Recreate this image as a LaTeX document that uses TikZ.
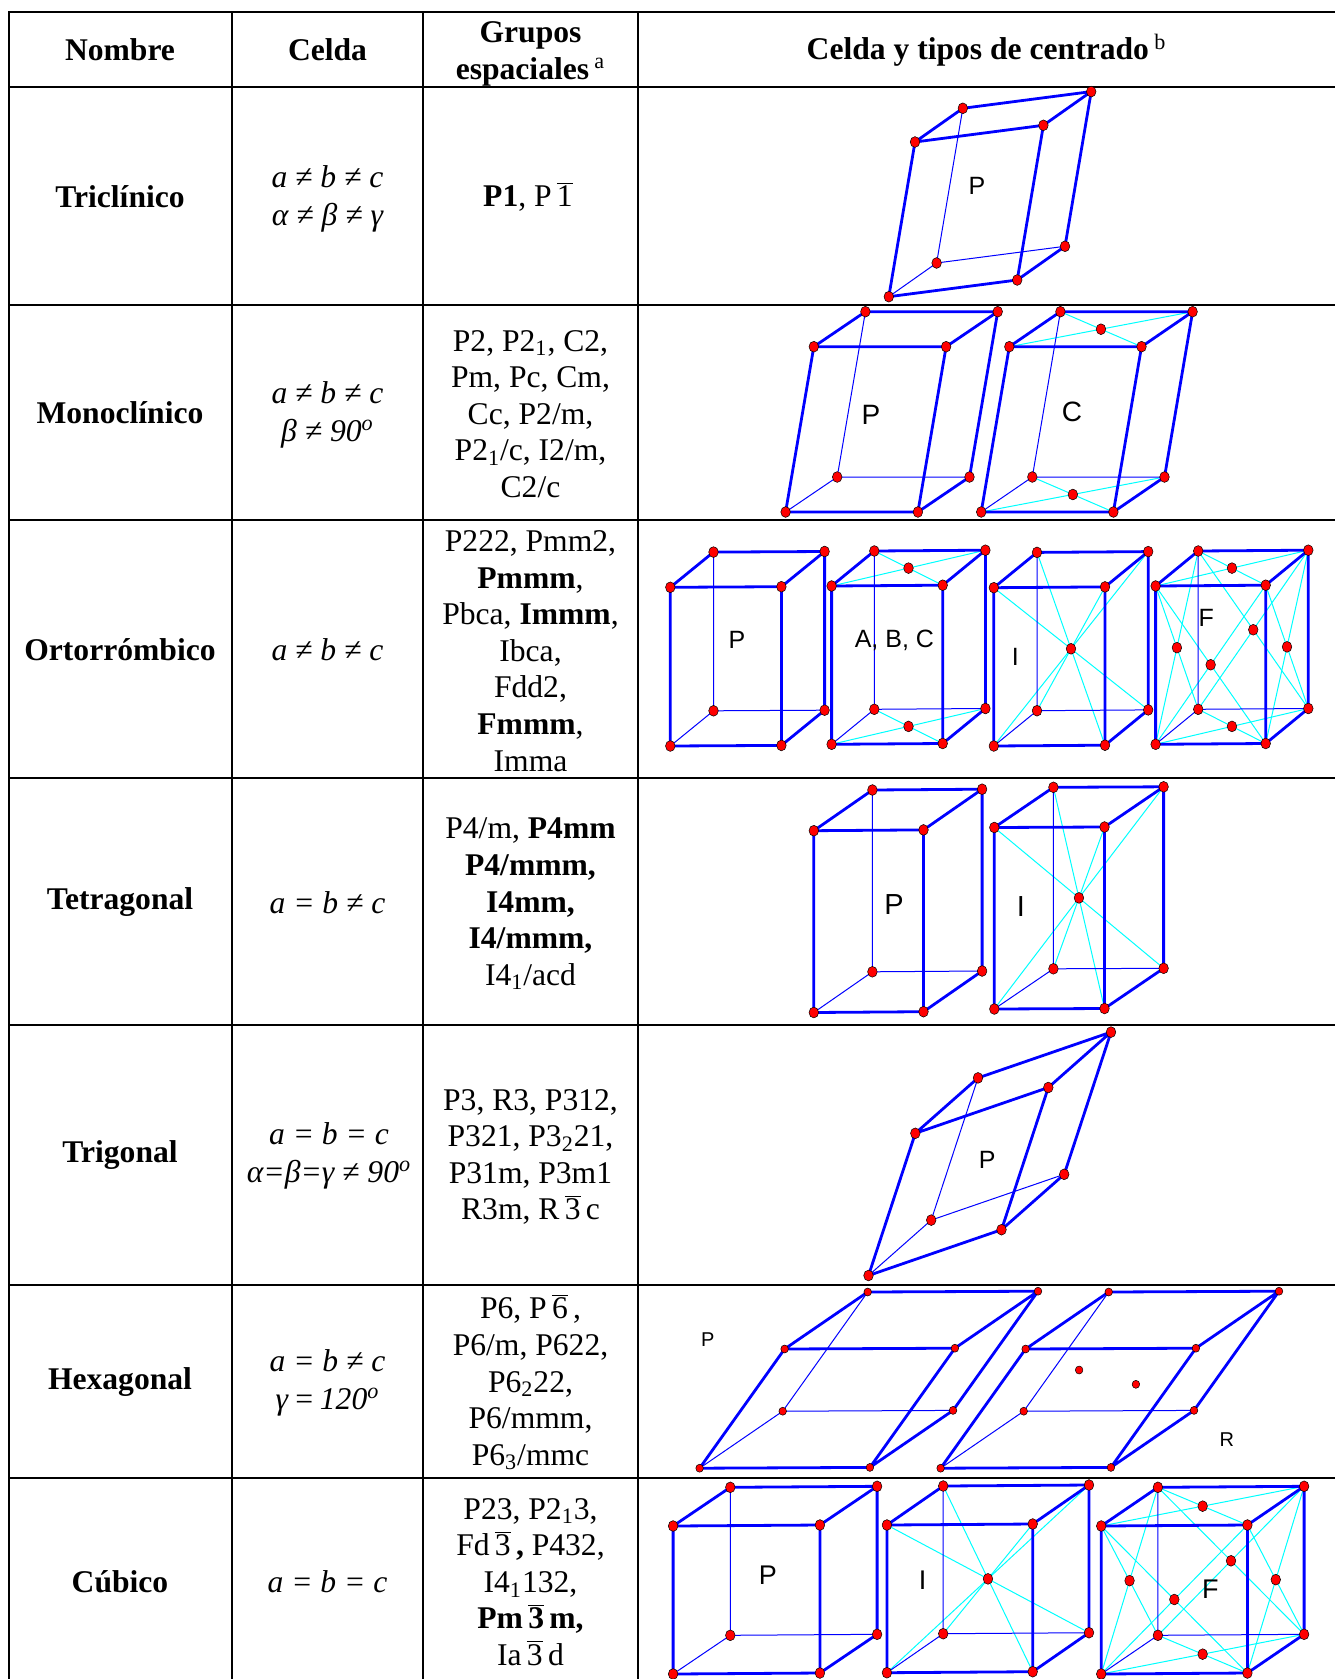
\documentclass[tikz,border=0pt]{standalone}
\usepackage{fontspec}
\setmainfont{Liberation Serif}
\newfontfamily\arial{Liberation Sans}
\usetikzlibrary{calc}
\definecolor{cian}{RGB}{0,255,255}
\definecolor{azul}{RGB}{0,0,255}
\definecolor{rojo}{RGB}{255,0,0}

\newcommand{\barra}[1]{\ensuremath{\overline{\mbox{#1}}}}
% celda: nombre, origen, a, b (alto), c (fondo)
\newcommand{\celda}[5]{%
  \coordinate (#1-000) at (#2);
  \coordinate (#1-100) at ($(#2)+(#3)$);
  \coordinate (#1-010) at ($(#2)+(#4)$);
  \coordinate (#1-001) at ($(#2)+(#5)$);
  \coordinate (#1-110) at ($(#2)+(#3)+(#4)$);
  \coordinate (#1-101) at ($(#2)+(#3)+(#5)$);
  \coordinate (#1-011) at ($(#2)+(#4)+(#5)$);
  \coordinate (#1-111) at ($(#2)+(#3)+(#4)+(#5)$);
}
\newcommand{\caja}[1]{%
  \draw[oculta] (#1-000) -- (#1-001) -- (#1-101) (#1-001) -- (#1-011);
  \draw[arista] (#1-000) -- (#1-100) -- (#1-110) -- (#1-010) -- cycle
    (#1-010) -- (#1-011) -- (#1-111) -- (#1-110)
    (#1-100) -- (#1-101) -- (#1-111);
  \foreach \v in {000,100,010,001,110,101,011,111}
    \path[punto] (#1-\v) circle;
}
\newcommand{\diagC}{010/111,110/011,000/101,100/001}
\newcommand{\diagI}{000/111,100/011,010/101,110/001}
\newcommand{\diagF}{010/111,110/011,000/101,100/001,000/110,100/010,001/111,101/011,000/011,001/010,100/111,101/110}
\newcommand{\centC}{010/111,000/101}
\newcommand{\centF}{010/111,000/101,000/110,001/111,000/011,100/111}

\begin{document}
\begin{tikzpicture}[x=0.5pt,y=-0.5pt,
    linea/.style={line width=1pt},
    arista/.style={draw=azul,line width=1.4pt,line cap=round,line join=round},
    oculta/.style={draw=azul,line width=0.5pt},
    diag/.style={draw=cian,line width=0.5pt},
    punto/.style={fill=rojo,draw=black,line width=0.25pt,x radius=2.4pt,y radius=2.7pt},
    texto/.style={align=center,inner sep=0pt,font=\fontsize{15.8}{18.3}\selectfont},
    nombre/.style={texto,font=\fontsize{15.8}{18.3}\selectfont\bfseries},
    celdatxt/.style={texto,font=\fontsize{15.8}{18.7}\selectfont\itshape},
    letra/.style={inner sep=0pt,font=\arial\fontsize{12.5}{14}\selectfont}]
  \path[fill=white,use as bounding box] (0,0) rectangle (1335,1679);

  % tabla
  \foreach \y in {12,87,305,520,778,1025,1284.5,1477.5}
    \draw[linea] (8.5,\y) -- (1335,\y);
  \foreach \x in {8.5,232,423,638}
    \draw[linea] (\x,11.5) -- (\x,1679);

  % cabecera
  \node[nombre] (hnom) at (120,49.5) {Nombre};
  \node[nombre] (hcel) at (327.5,49.5) {Celda};
  \node[nombre] (hgru) at (530.5,54) {Grupos\\espaciales\,\textsuperscript{\mdseries a}};
  \node[nombre] (hcen) at (986.5,50.5) {Celda y tipos de centrado\,\textsuperscript{\mdseries b}};

  % nombres
  \node[nombre] (ntri) at (120,197) {Triclínico};
  \node[nombre] (nmon) at (120,413) {Monoclínico};
  \node[nombre] (nort) at (120,650) {Ortorrómbico};
  \node[nombre] (ntet) at (120,902.5) {Tetragonal};
  \node[nombre] (ntrg) at (120,1155) {Trigonal};
  \node[nombre] (nhex) at (120,1382) {Hexagonal};
  \node[nombre] (ncub) at (120,1582) {Cúbico};

  % celda
  \node[celdatxt] (ctri) at (327.5,199) {a ≠ b ≠ c\\α ≠ β ≠ γ};
  \node[celdatxt] (cmon) at (327.5,415) {a ≠ b ≠ c\\β ≠ 90\textsuperscript{o}};
  \node[celdatxt] (cort) at (327.5,650) {a ≠ b ≠ c};
  \node[celdatxt] (ctet) at (327.5,902.5) {a = b ≠ c};
  \node[celdatxt] (ctrg) at (329,1156) {a = b = c\\α=β=γ ≠ 90\textsuperscript{o}};
  \node[celdatxt] (chex) at (327.5,1383) {a = b ≠ c\\γ\,=\,120\textsuperscript{o}};
  \node[celdatxt] (ccub) at (327.5,1582) {a = b = c};

  % grupos espaciales
  \node[texto] (gtri) at (528,197) {\textbf{P1}, P\,\barra{1}};
  \node[texto] (gmon) at (530.5,414) {P2, P2\textsubscript{1}, C2,\\Pm, Pc, Cm,\\Cc, P2/m,\\P2\textsubscript{1}/c, I2/m,\\C2/c};
  \node[texto] (gort) at (530.5,651) {P222, Pmm2,\\\textbf{Pmmm},\\Pbca, \textbf{Immm},\\Ibca,\\Fdd2,\\\textbf{Fmmm},\\Imma};
  \node[texto] (gtet) at (530.5,904) {P4/m, \textbf{P4mm}\\\textbf{P4/mmm,}\\\textbf{I4mm,}\\\textbf{I4/mmm,}\\I4\textsubscript{1}/acd};
  \node[texto] (gtrg) at (530.5,1157) {P3, R3, P312,\\P321, P3\textsubscript{2}21,\\P31m, P3m1\\R3m, R\,\barra{3}\,c};
  \node[texto] (ghex) at (530.5,1382) {P6, P\,\barra{6}\,,\\P6/m, P622,\\P6\textsubscript{2}22,\\P6/mmm,\\P6\textsubscript{3}/mmc};
  \node[texto] (gcub) at (530.5,1582) {P23, P2\textsubscript{1}3,\\Fd\,\barra{3}\,\textbf{,} P432,\\I4\textsubscript{1}132,\\\textbf{Pm\,\barra{3}\,m,}\\Ia\,\barra{3}\,d};

  % triclinico
  \celda{tp}{888.8,296.7}{128.4,-16.7}{26.2,-154.7}{47.8,-33.7}
  \caja{tp}
  \node[letra] (ltp) at (977,186) {P};

  % monoclinico
  \celda{mp}{785.6,512}{132.3,0}{28.2,-165.3}{51.6,-35}
  \caja{mp}
  \celda{mc}{981.2,512}{132.2,0}{28.1,-165.3}{51.1,-35}
  \foreach \p/\q in \diagC \draw[diag] (mc-\p) -- (mc-\q);
  \caja{mc}
  \foreach \p/\q in \centC \path[punto] ($(mc-\p)!0.5!(mc-\q)$) circle;
  \node[letra,font=\arial\fontsize{14}{16}\selectfont] (lmp) at (871,415) {P};
  \node[letra,font=\arial\fontsize{14}{16}\selectfont] (lmc) at (1072,412) {C};

  % ortorrombico
  \celda{op}{670.3,746}{111.1,-0.6}{0,-158.7}{43.2,-35.2}
  \caja{op}
  \celda{oc}{831.6,744.3}{111.1,-0.8}{0,-158.3}{42.7,-35}
  \foreach \p/\q in \diagC \draw[diag] (oc-\p) -- (oc-\q);
  \caja{oc}
  \foreach \p/\q in \centC \path[punto] ($(oc-\p)!0.5!(oc-\q)$) circle;
  \celda{oi}{993.8,746}{111.2,-0.8}{0,-158.3}{43.2,-35.3}
  \foreach \p/\q in \diagI \draw[diag] (oi-\p) -- (oi-\q);
  \caja{oi}
  \path[punto] ($(oi-000)!0.5!(oi-111)$) circle;
  \celda{of}{1155.6,744.3}{110.1,-0.8}{0,-158.3}{42.6,-35}
  \foreach \p/\q in \diagF \draw[diag] (of-\p) -- (of-\q);
  \caja{of}
  \foreach \p/\q in \centF \path[punto] ($(of-\p)!0.5!(of-\q)$) circle;
  \node[letra] (lop) at (737,640) {P};
  \node[letra] (loc) at (894.4,640.7) {A, B, C};
  \node[letra] (loi) at (1015.4,656.7) {I};
  \node[letra] (lof) at (1206.2,618.3) {F};

  % tetragonal
  \celda{tep}{813.8,1012.5}{109.7,-0.8}{0,-181.8}{58.6,-40.7}
  \caja{tep}
  \celda{tei}{994.3,1009}{110.2,-0.5}{0,-181.5}{59.1,-40.2}
  \foreach \p/\q in \diagI \draw[diag] (tei-\p) -- (tei-\q);
  \caja{tei}
  \path[punto] ($(tei-000)!0.5!(tei-111)$) circle;
  \node[letra,font=\arial\fontsize{14.5}{16}\selectfont] (ltep) at (894,905) {P};
  \node[letra,font=\arial\fontsize{14.5}{16}\selectfont] (ltei) at (1021,906.7) {I};

  % trigonal
  \celda{rp}{868.5,1275.5}{133,-45.8}{46.8,-142.2}{62.7,-55.4}
  \caja{rp}
  \node[letra] (lrp) at (987.2,1160) {P};

  % hexagonal
  \begin{scope}[punto/.append style={x radius=1.9pt,y radius=2pt}]
    \celda{hp}{699.6,1468.2}{170.3,-0.8}{85,-119.2}{83.1,-57}
    \caja{hp}
    \celda{hr}{940.6,1468.2}{170.3,-0.8}{85,-119.2}{83.1,-57}
    \caja{hr}
    \path[punto] (1079.1,1370) circle;
    \path[punto] (1135.9,1384.3) circle;
  \end{scope}
  \node[letra,font=\arial\fontsize{10}{11}\selectfont] (lhp) at (707.8,1340) {P};
  \node[letra,font=\arial\fontsize{10}{11}\selectfont] (lhr) at (1226.8,1440) {R};

  % cubico
  \celda{cp}{673.1,1674}{146.8,-1}{0,-148}{57.2,-38.7}
  \caja{cp}
  \celda{ci}{886.9,1672.7}{145.8,-1}{0,-147.7}{56.3,-39}
  \foreach \p/\q in \diagI \draw[diag] (ci-\p) -- (ci-\q);
  \caja{ci}
  \path[punto] ($(ci-000)!0.5!(ci-111)$) circle;
  \celda{cf}{1101.2,1674}{146.2,-1}{0,-148}{56.7,-38.7}
  \foreach \p/\q in \diagF \draw[diag] (cf-\p) -- (cf-\q);
  \caja{cf}
  \foreach \p/\q in \centF \path[punto] ($(cf-\p)!0.5!(cf-\q)$) circle;
  \node[letra,font=\arial\fontsize{13.5}{15}\selectfont] (lcp) at (767.8,1575) {P};
  \node[letra,font=\arial\fontsize{13.5}{15}\selectfont] (lci) at (922.5,1580) {I};
  \node[letra,font=\arial\fontsize{13.5}{15}\selectfont] (lcf) at (1210.4,1589.3) {F};
\end{tikzpicture}
\end{document}
